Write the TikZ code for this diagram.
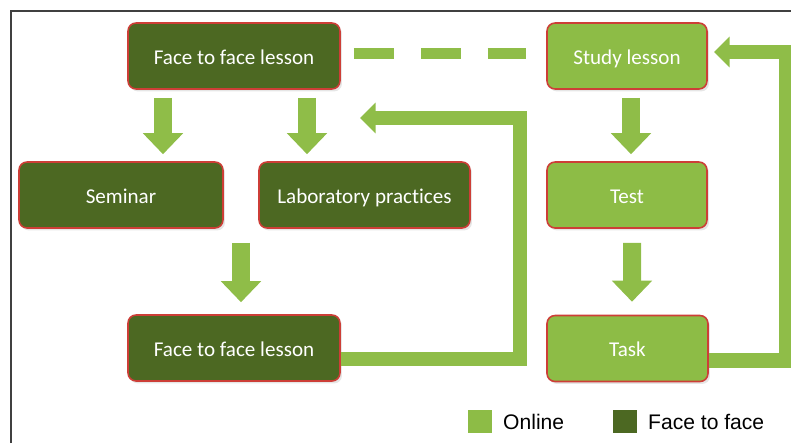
\documentclass[tikz,border=0pt]{standalone}
\usepackage{fontspec}
\setmainfont{Carlito}[Ligatures=NoCommon]
\newfontfamily\legendfont{Liberation Sans}
\usetikzlibrary{calc}
\usetikzlibrary{arrows.meta}
\usetikzlibrary{shadows}

\begin{document}
\begin{tikzpicture}[x=0.02cm,y=-0.02cm]

\definecolor{darkleaf}{RGB}{76,104,34}
\definecolor{lightleaf}{RGB}{141,188,70}
\definecolor{arrowleaf}{RGB}{143,189,72}
\definecolor{boxborder}{RGB}{205,62,55}
\colorlet{framecolor}{black!75}

\def\boxheight{1.32cm}
\def\shaftwidth{0.36cm}
\def\loopwidth{0.29cm}

\tikzset{
  lessonbox/.style={rectangle, rounded corners=0.16cm, draw=boxborder, line width=0.9pt,
    text=white, font=\fontsize{12}{14}\selectfont, minimum height=\boxheight, inner sep=0pt,
    text height=10.4pt, text depth=0.8pt,
    drop shadow={opacity=0.2, shadow xshift=0.04cm, shadow yshift=-0.05cm}},
  facebox/.style={lessonbox, fill=darkleaf},
  onlinebox/.style={lessonbox, fill=lightleaf},
  downarrow/.style={arrowleaf, line width=\shaftwidth, -{Triangle[width=0.78cm,length=0.42cm]}},
  looparrow/.style={arrowleaf, line width=\loopwidth, -{Triangle[width=0.6cm,length=0.31cm]}},
  legendkey/.style={rectangle, minimum width=0.48cm, minimum height=0.46cm, inner sep=0pt},
}

\useasboundingbox (0,0) rectangle (791,443);

% DRAW THE FRAME
\draw[framecolor, line width=0.8pt] (11,443) -- (11,11) -- (791,11);

% DRAW THE FACE TO FACE BOXES
\node[facebox, minimum width=4.24cm] (f2ftop) at (234,56) {Face to face lesson};
\node[facebox, minimum width=4.08cm] (seminar) at (121,195) {Seminar};
\node[facebox, minimum width=4.22cm] (lab) at (364.5,195) {Laboratory practices};
\node[facebox, minimum width=4.24cm] (f2fbot) at (234,348) {Face to face lesson};

% DRAW THE ONLINE BOXES
\node[onlinebox, minimum width=3.2cm] (study) at (627,56) {Study lesson};
\node[onlinebox, minimum width=3.2cm] (test) at (627,195) {Test};
\node[onlinebox, minimum width=3.22cm] (task) at (627.5,348.5) {Task};

% DRAW THE DOWN ARROWS
\draw[downarrow] ($(f2ftop.south)+(-71,8)$) -- ($(seminar.north)+(42,-7)$);
\draw[downarrow] ($(f2ftop.south)+(73,8)$) -- ($(lab.north)+(-57.5,-7)$);
\draw[downarrow] ($(lab.south)+(-123.5,14)$) -- ($(f2fbot.north)+(7,-12)$);
\draw[downarrow] ($(study.south)+(4,8)$) -- ($(test.north)+(4,-7)$);
\draw[downarrow] ($(test.south)+(5,14)$) -- ($(task.north)+(4.5,-13)$);

% DRAW THE DASHED LINK
\draw[arrowleaf, line width=0.22cm, dash pattern=on 0.8cm off 0.54cm]
  ($(f2ftop.east)+(13,-2.5)$) -- ($(study.west)+(-20,-2.5)$);

% DRAW THE FEEDBACK LOOPS
\coordinate (labloop) at (360,118);
\coordinate (studyloop) at (714,52);
\draw[looparrow] ($(f2fbot.east)+(0,11)$) -| (520,118) -- (labloop);
\draw[looparrow] ($(task.east)+(0,12)$) -| (786,52) -- (studyloop);

% DRAW THE LEGEND
\node[legendkey, fill=lightleaf] (keyonline) at (480,421.5) {};
\node[anchor=west, font=\legendfont\fontsize{12}{14}\selectfont] (textonline) at (497,421.5) {Online};
\node[legendkey, fill=darkleaf] (keyface) at (624.5,421.5) {};
\node[anchor=west, font=\legendfont\fontsize{12}{14}\selectfont] (textface) at (642,421.5) {Face to face};

\end{tikzpicture}
\end{document}
